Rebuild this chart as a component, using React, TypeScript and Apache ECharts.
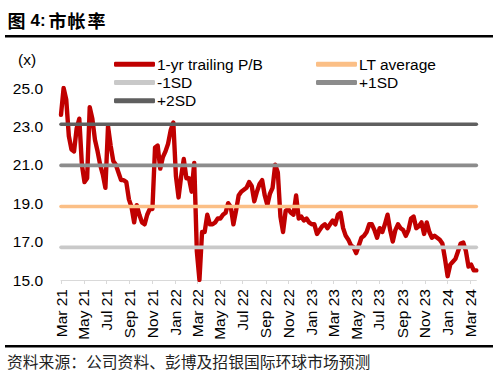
import React, { useEffect, useRef } from "react";
import * as echarts from "echarts";

const START_DATE = "2021-03-01";
const STEP_DAYS = 7;

const PB = [
  23.6, 25.0, 24.4, 22.5, 21.8, 21.7, 22.9, 23.4, 21.0, 20.1,
  20.3, 24.0, 23.4, 22.3, 21.7, 21.0, 20.5, 19.8, 23.0, 22.0,
  21.2, 21.0, 20.6, 20.2, 20.2, 20.1, 19.2, 18.8, 18.0, 18.9,
  18.4, 18.0, 17.9, 18.4, 18.7, 18.7, 21.9, 22.0, 20.8, 21.4,
  21.7, 22.1, 22.8, 23.2, 20.4, 19.3, 20.4, 21.3, 20.3, 20.3,
  19.6, 21.1, 16.5, 15.0, 17.5, 17.5, 18.4, 17.9, 17.9, 18.0,
  18.2, 18.2, 18.4, 18.5, 19.0, 18.8, 17.9, 18.6, 19.4, 19.6,
  19.7, 19.8, 20.1, 19.9, 19.1, 19.6, 20.0, 20.2, 19.4, 18.9,
  19.5, 19.8, 21.0, 20.6, 18.3, 17.5, 18.6, 18.7, 18.5, 18.4,
  19.4, 18.2, 18.3, 18.1, 18.2, 18.0, 17.9, 17.9, 17.4, 17.6,
  17.8, 17.9, 17.7, 17.9, 18.1, 17.9, 18.4, 18.5, 17.7, 17.3,
  17.1, 16.8, 16.7, 16.4, 16.8, 17.2, 17.3, 17.5, 17.9, 17.9,
  17.6, 17.2, 17.7, 17.5, 17.9, 18.4, 17.6, 17.0, 17.6, 17.9,
  17.7, 17.6, 17.3, 17.6, 18.2, 18.3, 17.7, 17.8, 18.0, 17.4,
  18.0, 17.5, 17.2, 17.3, 17.2, 17.1, 16.9, 16.1, 15.2, 15.8,
  15.95, 16.1, 16.5, 16.9, 16.95, 16.5, 15.7, 15.8, 15.5, 15.5,
];

const LT_AVERAGE = 18.83;
const MINUS_1SD = 16.7;
const PLUS_1SD = 20.97;
const PLUS_2SD = 23.11;

const TICK_DATES = [
  "2021-03-01", "2021-05-01", "2021-07-01", "2021-09-01", "2021-11-01",
  "2022-01-01", "2022-03-01", "2022-05-01", "2022-07-01", "2022-09-01",
  "2022-11-01", "2023-01-01", "2023-03-01", "2023-05-01", "2023-07-01",
  "2023-09-01", "2023-11-01", "2024-01-01", "2024-03-01",
];
const TICK_LABELS = [
  "Mar 21", "May 21", "Jul 21", "Sep 21", "Nov 21",
  "Jan 22", "Mar 22", "May 22", "Jul 22", "Sep 22",
  "Nov 22", "Jan 23", "Mar 23", "May 23", "Jul 23",
  "Sep 23", "Nov 23", "Jan 24", "Mar 24",
];

const Y_MIN = 15;
const Y_MAX = 25;
const Y_STEP = 2;

const TITLE_CHARS = ["图", "4:", "市", "帐", "率"];
const SOURCE = "资料来源：公司资料、彭博及招银国际环球市场预测";

const FONT = "'Liberation Sans', Arial, sans-serif";
const CJK = "'Noto Sans CJK SC', sans-serif";

export default function App() {
  const ref = useRef<HTMLDivElement>(null);
  useEffect(() => {
    if (!ref.current) return;
    const chart = echarts.init(ref.current, null, { renderer: "svg" });
    const t0 = Date.parse(START_DATE);
    const dayOf = (d: string) => Math.round((Date.parse(d) - t0) / 86400000);
    const pbData = PB.map((v, i) => [i * STEP_DAYS, v]);
    const lastDay = (PB.length - 1) * STEP_DAYS;
    const tickDays = TICK_DATES.map(dayOf);
    const labelOf = new Map<number, string>(tickDays.map((d, i) => [d, TICK_LABELS[i]]));
    const flat = (v: number) => [[0, v], [lastDay, v]];

    const flatSeries = (name: string, v: number, color: string) => ({
      name,
      type: "line",
      data: flat(v),
      symbol: "none",
      color,
      lineStyle: { color, width: 3.6, cap: "round" },
      z: 3,
    });

    const legendText = {
      fontSize: 15.5, lineHeight: 18.3, color: "#000", fontFamily: FONT,
      padding: [0, 0, 0, -3],
    };
    const titleX = [7.5, 30.5, 48.5, 67.5, 87.5];

    chart.setOption({
      animation: false,
      backgroundColor: "#fff",
      grid: { left: 61, right: 21.65, top: 88, bottom: 95, containLabel: false },
      legend: [
        {
          left: 109, top: 50, orient: "vertical", icon: "roundRect",
          itemWidth: 41, itemHeight: 5, itemGap: 0,
          data: ["1-yr trailing P/B", "-1SD", "+2SD"],
          textStyle: legendText,
        },
        {
          left: 311, top: 50, orient: "vertical", icon: "roundRect",
          itemWidth: 41, itemHeight: 5, itemGap: 0,
          data: ["LT average", "+1SD"],
          textStyle: legendText,
        },
      ],
      xAxis: {
        type: "value",
        min: 0,
        max: lastDay,
        splitLine: { show: false },
        axisLine: { show: true, lineStyle: { color: "#d9d9d9", width: 1 } },
        axisTick: { show: true, customValues: tickDays, length: 4, lineStyle: { color: "#d9d9d9" } },
        axisLabel: {
          customValues: tickDays,
          rotate: 90,
          margin: 9,
          fontSize: 15.5,
          color: "#000",
          fontFamily: FONT,
          formatter: (v: number) => labelOf.get(Math.round(v)) ?? "",
        },
      },
      yAxis: {
        type: "value",
        min: Y_MIN,
        max: Y_MAX,
        interval: Y_STEP,
        splitLine: { show: false },
        axisLine: { show: false },
        axisTick: { show: false },
        axisLabel: {
          margin: 18,
          fontSize: 15.5,
          color: "#000",
          fontFamily: FONT,
          formatter: (v: number) => v.toFixed(1),
        },
      },
      series: [
        {
          name: "1-yr trailing P/B",
          type: "line",
          data: pbData,
          symbol: "none",
          color: "#C00000",
          lineStyle: { color: "#C00000", width: 4.4, join: "round", cap: "round" },
          z: 2,
        },
        flatSeries("LT average", LT_AVERAGE, "#FBBF86"),
        flatSeries("-1SD", MINUS_1SD, "#C9C9C9"),
        flatSeries("+1SD", PLUS_1SD, "#8C8C8C"),
        flatSeries("+2SD", PLUS_2SD, "#5F5F5F"),
      ],
      graphic: [
        ...TITLE_CHARS.map((t, i) => ({
          type: "text",
          x: titleX[i],
          y: 20,
          style: {
            text: t,
            fontSize: i === 1 ? 17 : 18,
            fontWeight: "bold",
            fill: "#000",
            fontFamily: i === 1 ? FONT : CJK,
            textVerticalAlign: "middle",
          },
        })),
        {
          type: "rect",
          shape: { x: 5, y: 35, width: 488, height: 2.4 },
          style: { fill: "#000" },
        },
        {
          type: "text",
          x: 27,
          y: 59,
          style: {
            text: "(x)",
            fontSize: 15.5,
            fill: "#000",
            fontFamily: FONT,
            textAlign: "center",
            textVerticalAlign: "middle",
          },
        },
        {
          type: "rect",
          shape: { x: 5, y: 345, width: 488, height: 2.4 },
          style: { fill: "#000" },
        },
        {
          type: "text",
          x: 7,
          y: 361,
          style: {
            text: SOURCE,
            fontSize: 15.8,
            fill: "#222",
            fontFamily: CJK,
            textVerticalAlign: "middle",
          },
        },
      ],
    });
    return () => chart.dispose();
  }, []);
  return (
    <div
      ref={ref}
      style={{ position: "absolute", left: 0, top: 0, width: 498, height: 375, background: "#fff" }}
    />
  );
}
